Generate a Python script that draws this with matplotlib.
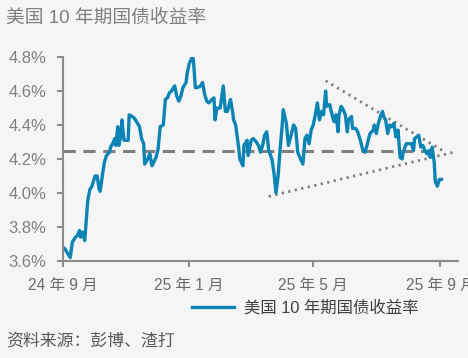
import numpy as np
import pandas as pd
import matplotlib
matplotlib.use("Agg")
import matplotlib.pyplot as plt

plt.rcParams['font.family'] = ['Liberation Sans', 'Noto Sans CJK SC']

start = pd.Timestamp("2024-09-01")
# days since 2024-09-01 and yield (%)
days = [0, 2, 4, 7, 9, 12, 14, 16, 17, 19, 21, 24, 26, 28, 31, 33, 35, 36, 38, 40,
        42, 45, 46, 48, 50, 51, 53, 54, 56, 57, 59, 61, 63, 64, 67, 69, 71, 74, 76, 78,
        79, 82, 84, 86, 87, 90, 92, 94, 97, 99, 101, 103, 105, 108, 110, 112, 114, 116, 119, 120,
        122, 125, 126, 128, 130, 133, 135, 137, 139, 141, 144, 146, 147, 149, 152, 155, 157, 159, 162, 164,
        165, 167, 170, 171, 174, 175, 178, 179, 182, 184, 187, 189, 191, 193, 195, 197, 199, 202, 204, 206,
        208, 210, 212, 213, 216, 218, 221, 223, 225, 227, 229, 232, 234, 236, 238, 240, 242, 244, 246, 248,
        250, 252, 254, 255, 258, 259, 262, 264, 266, 267, 269, 271, 273, 275, 276, 279, 280, 283, 285, 288,
        290, 292, 294, 296, 297, 300, 301, 303, 305, 307, 309, 310, 312, 314, 316, 318, 320, 322, 324, 326,
        328, 329, 332, 334, 337, 339, 340, 342, 344, 346, 348, 350, 352, 354, 355, 357, 359, 360, 362, 364,
        366]
yields = [3.68, 3.67, 3.65, 3.62, 3.71, 3.74, 3.75, 3.78, 3.74, 3.77, 3.72, 3.96, 4.02, 4.04, 4.10, 4.10, 4.02, 4.01, 4.10, 4.18,
          4.22, 4.24, 4.27, 4.29, 4.32, 4.28, 4.39, 4.28, 4.34, 4.43, 4.31, 4.31, 4.31, 4.46, 4.45, 4.44, 4.42, 4.39, 4.32, 4.29,
          4.17, 4.20, 4.23, 4.16, 4.17, 4.21, 4.26, 4.39, 4.40, 4.55, 4.56, 4.59, 4.60, 4.63, 4.57, 4.54, 4.57, 4.62, 4.65, 4.70,
          4.76, 4.80, 4.79, 4.62, 4.62, 4.63, 4.65, 4.58, 4.54, 4.53, 4.55, 4.56, 4.43, 4.50, 4.50, 4.63, 4.48, 4.48, 4.55, 4.48,
          4.43, 4.40, 4.26, 4.20, 4.16, 4.28, 4.31, 4.22, 4.31, 4.32, 4.30, 4.28, 4.24, 4.28, 4.34, 4.36, 4.25, 4.20, 4.12, 4.00,
          4.10, 4.26, 4.40, 4.49, 4.41, 4.28, 4.35, 4.40, 4.38, 4.24, 4.21, 4.17, 4.32, 4.34, 4.29, 4.37, 4.40, 4.46, 4.53, 4.43,
          4.48, 4.46, 4.60, 4.51, 4.52, 4.49, 4.42, 4.46, 4.36, 4.46, 4.51, 4.49, 4.46, 4.36, 4.43, 4.45, 4.38, 4.38, 4.36, 4.30,
          4.25, 4.24, 4.28, 4.33, 4.35, 4.37, 4.40, 4.35, 4.41, 4.45, 4.48, 4.45, 4.43, 4.35, 4.40, 4.39, 4.41, 4.33, 4.37, 4.21,
          4.20, 4.24, 4.29, 4.29, 4.29, 4.25, 4.32, 4.33, 4.34, 4.27, 4.28, 4.25, 4.23, 4.25, 4.21, 4.27, 4.18, 4.07, 4.04, 4.08,
          4.08]

avg_level = 4.25
avg_days = [0, 360]
upper_days = [254, 367]
upper_vals = [4.66, 4.25]
lower_days = [199, 378]
lower_vals = [3.98, 4.24]

tick_dates = ["2024-09-01", "2025-01-01", "2025-05-01", "2025-09-01"]
tick_labels = ["24 年 9 月", "25 年 1 月", "25 年 5 月", "25 年 9 月"]
yticks = [3.6, 3.8, 4.0, 4.2, 4.4, 4.6, 4.8]

to_date = lambda d: start + pd.to_timedelta(d, unit="D")

bg = "#f5f5f5"
grey = "#7f7f7f"
blue = "#0a84b4"

fig = plt.figure(figsize=(4.68, 3.58), dpi=100, facecolor=bg)
ax = fig.add_axes([63 / 468, 97 / 358, 395 / 468, 204 / 358], facecolor=bg)

ax.plot([to_date(d) for d in avg_days], [avg_level, avg_level], color=grey,
        lw=2.2, dashes=(4, 2.5))
ax.plot([to_date(d) for d in upper_days], upper_vals, color=grey, lw=2, dashes=(0.8, 1.6))
ax.plot([to_date(d) for d in lower_days], lower_vals, color=grey, lw=2, dashes=(0.8, 1.6))
ax.plot([to_date(d) for d in days], yields, color=blue, lw=2.4, label="美国 10 年期国债收益率")

ax.set_xlim(to_date(0), to_date(382))
ax.set_ylim(3.6, 4.8)
ax.set_yticks(yticks)
ax.set_yticklabels([f"{v:.1f}%" for v in yticks])
ax.set_xticks([pd.Timestamp(t) for t in tick_dates])
ax.set_xticklabels(tick_labels)

for s in ["top", "right"]:
    ax.spines[s].set_visible(False)
for s in ["left", "bottom"]:
    ax.spines[s].set_color("#8c8c8c")
    ax.spines[s].set_linewidth(1.5)
ax.tick_params(axis="both", colors="#8c8c8c", length=4, width=1.5, pad=8)
ax.tick_params(axis="y", labelcolor="#808080", labelsize=12)
ax.tick_params(axis="x", labelcolor="#6b6b6b", labelsize=11.2)

fig.text(6 / 468, 1 - 18 / 358, "美国 10 年期国债收益率", fontsize=13.5, color=grey,
         va="center", ha="left")
fig.text(6 / 468, 1 - 341 / 358, "资料来源：彭博、渣打", fontsize=12.2, color="#595959",
         va="center", ha="left")

fig.legend(loc="center", bbox_to_anchor=(305 / 468, 1 - 308 / 358), frameon=False,
           fontsize=11.8, handlelength=2.6, handletextpad=0.6, borderpad=0,
           labelcolor="#404040")

fig.savefig("out.png", dpi=100, facecolor=bg)
